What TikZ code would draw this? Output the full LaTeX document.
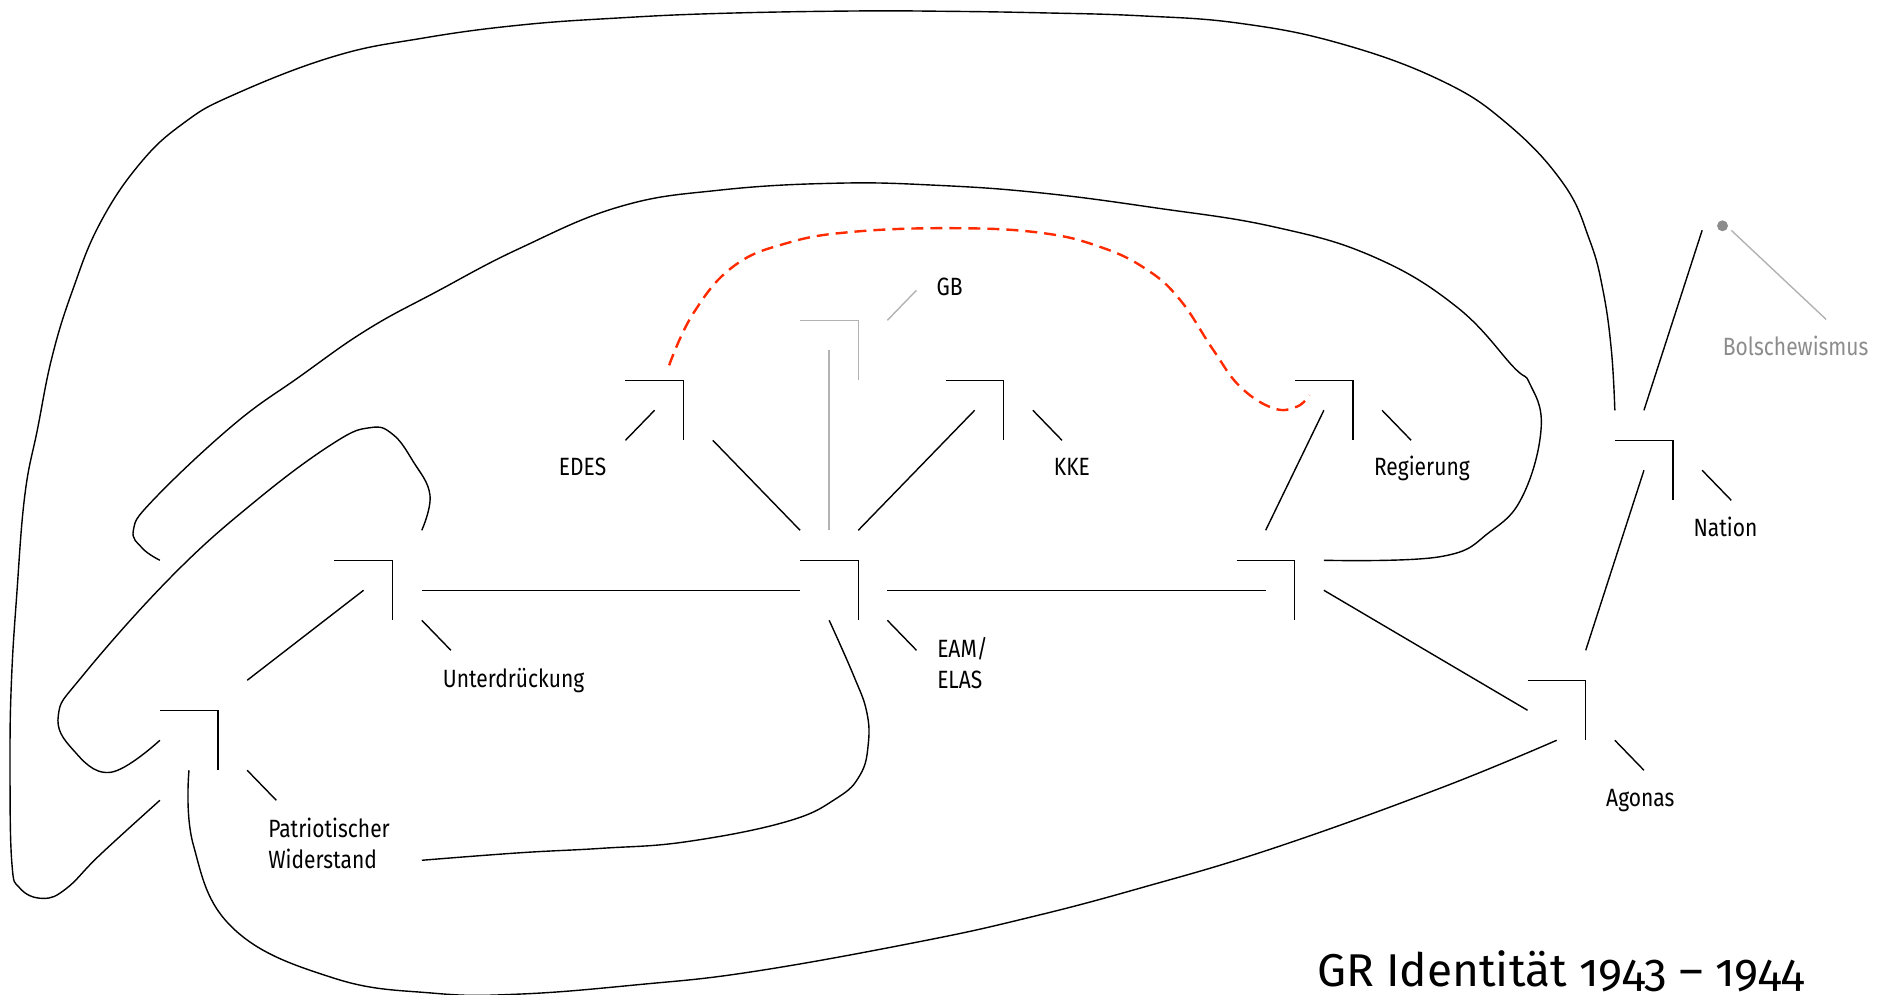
\documentclass[tikz,border=0pt]{standalone}
\usepackage{fontspec}
\setmainfont{Fira Sans}[FakeStretch=0.84,Numbers=OldStyle]
\newfontfamily\titlefont{Fira Sans}[Numbers=OldStyle]
\definecolor{dashred}{RGB}{255,42,0}
\definecolor{lightline}{RGB}{178,178,178}
\definecolor{dotgrey}{RGB}{140,140,140}
\begin{document}
\begin{tikzpicture}[x=29.1pt,y=-30pt,line width=1.4pt,
  lbl/.style={anchor=base west,inner sep=0pt,align=left,font=\fontsize{25}{31}\selectfont},
  faint/.style={draw=lightline},
  link/.style={draw=dashred,line width=2.4pt,dash pattern=on 12pt off 7pt},
  curvy/.style={smooth,tension=0.7}]
\useasboundingbox (-29.495,-18.677) rectangle (35.215,14.49);

\coordinate (pat) at (-22,5);
\coordinate (unt) at (-16,0);
\coordinate (edes) at (-6,-6);
\coordinate (gb) at (0,-8);
\coordinate (kke) at (5,-6);
\coordinate (eam) at (0,0);
\coordinate (reg) at (17,-6);
\coordinate (hub) at (15,0);
\coordinate (ago) at (25,4);
\coordinate (nat) at (28,-4);
\coordinate (bol) at (29.7,-11.15);
\coordinate (bend) at (-24,0);
\coordinate (wend) at (-15,10);

\draw (pat) +(-2,0) -- (pat) -- +(0,2);
\draw (unt) +(-2,0) -- (unt) -- +(0,2);
\draw (edes) +(-2,0) -- (edes) -- +(0,2);
\draw[faint] (gb) +(-2,0) -- (gb) -- +(0,2);
\draw (kke) +(-2,0) -- (kke) -- +(0,2);
\draw (eam) +(-2,0) -- (eam) -- +(0,2);
\draw (reg) +(-2,0) -- (reg) -- +(0,2);
\draw (hub) +(-2,0) -- (hub) -- +(0,2);
\draw (ago) +(-2,0) -- (ago) -- +(0,2);
\draw (nat) +(-2,0) -- (nat) -- +(0,2);
\filldraw[dotgrey] (bol) circle (4.7pt);

\draw (pat) +(1,2) -- +(2,3);
\draw (unt) +(1,2) -- +(2,3);
\draw (edes) +(-1,1) -- +(-2,2);
\draw[faint] (gb) +(1,0) -- +(2,-1);
\draw (kke) +(1,1) -- +(2,2);
\draw (eam) +(1,2) -- +(2,3);
\draw (reg) +(1,1) -- +(2,2);
\draw (ago) +(1,2) -- +(2,3);
\draw (nat) +(1,1) -- +(2,2);
\draw[faint] (bol) +(0.3,0.15) -- +(3.56,3.12);

\node[lbl] (patlabel) at (-20.3,10.27) {Patriotischer\\Widerstand};
\node[lbl] (untlabel) at (-14.3,4.23) {Unterdrückung};
\node[lbl] (edeslabel) at (-10.31,-2.81) {EDES};
\node[lbl] (gblabel) at (2.67,-8.82) {GB};
\node[lbl] (kkelabel) at (6.7,-2.84) {KKE};
\node[lbl] (eamlabel) at (2.69,4.27) {EAM/\\ELAS};
\node[lbl] (reglabel) at (17.7,-2.81) {Regierung};
\node[lbl] (agolabel) at (25.68,8.22) {Agonas};
\node[lbl] (natlabel) at (28.68,-0.79) {Nation};
\node[lbl,text=dotgrey] (bollabel) at (29.69,-6.81) {Bolschewismus};
\node[anchor=base west,inner sep=0pt,font=\titlefont\fontsize{46}{50}\selectfont] (title) at (15.75,14.2) {GR Identität 1943 – 1944};

\draw ([shift={(1,-1)}]pat) -- ([shift={(-1,1)}]unt);
\draw ([shift={(1,1)}]unt) -- ([shift={(-2,1)}]eam);
\draw ([shift={(1,1)}]eam) -- ([shift={(-1,1)}]hub);
\draw ([shift={(1,2)}]edes) -- ([shift={(-2,-1)}]eam);
\draw ([shift={(0,-1)}]eam) -- ([shift={(-1,1)}]kke);
\draw[faint] ([shift={(-1,-1)}]eam) -- ([shift={(-1,1)}]gb);
\draw ([shift={(-1,-1)}]hub) -- ([shift={(-1,1)}]reg);
\draw ([shift={(1,1)}]hub) -- ([shift={(-2,1)}]ago);
\draw ([shift={(0,-1)}]ago) -- ([shift={(-1,1)}]nat);
\draw ([shift={(-1,-1)}]nat) -- ([shift={(-0.7,0.15)}]bol);

\draw[link] plot[curvy] coordinates {([shift={(-0.5,-0.5)}]edes) (-5.67,-8.23) (-4.3,-9.79) (-2.46,-10.57) (-0.17,-10.95) (3.26,-11.07) (6.24,-10.92) (8.3,-10.45) (9.9,-9.7) (11.06,-8.68) (12.2,-7.01) (13.12,-5.79) (14.26,-5.07) (15.07,-5.12) ([shift={(-1.5,0.5)}]reg)};

\draw plot[curvy] coordinates {([shift={(1,-1)}]unt) (-14.72,-2.18) (-15.3,-3.3) (-16,-4.2) (-16.78,-4.42) (-18.04,-3.9) (-20.67,-2.01) (-23.55,0.49) (-26.63,3.82) (-27.49,5.16) (-27,6.3) (-25.71,7.07) ([shift={(-2,1)}]pat)};

\draw plot[curvy] coordinates {([shift={(1,0)}]hub) (20,-0.12) (21.71,-0.95) (22.85,-2.18) (23.47,-4.45) (23.07,-5.9) (22.51,-6.45) (20.56,-8.45) (17.7,-10.12) (14.26,-11.12) (10.2,-11.75) (6.24,-12.25) (2.7,-12.5) (-0.74,-12.57) (-4.75,-12.34) (-8.19,-11.79) (-11.63,-10.4) (-14.5,-8.95) (-16.89,-7.68) (-19.2,-6.12) (-21.48,-4.51) (-24.23,-2.01) (-24.91,-1.01) (-24.6,-0.4) (bend)};

\draw plot[curvy] coordinates {([shift={(-2,-1)}]nat) (25.88,-7.01) (25.59,-9.01) (25.13,-10.68) (24.22,-12.57) (22.28,-14.57) (19.99,-16.01) (16.55,-17.23) (13.11,-17.9) (9.7,-18.15) (6.24,-18.25) (3,-18.3) (-0.17,-18.31) (-4.75,-18.23) (-8.2,-18.08) (-11.63,-17.84) (-15,-17.4) (-18.04,-16.79) (-21.48,-15.51) (-23.19,-14.57) (-24.68,-13.23) (-26.06,-11.23) (-27,-9) (-27.7,-6.8) (-28.2,-4.4) (-28.64,-2.18) (-28.92,1.16) (-29.1,4) (-29.15,6.71) (-29.09,10.05) (-28.81,10.93) (-28.01,11.27) (-27.2,10.93) (-26.06,9.82) ([shift={(-2,3)}]pat)};

\draw plot[curvy] coordinates {([shift={(-1,2)}]pat) (-22.85,9.49) (-21.48,12.27) (-18.05,13.92) (-14.6,14.43) (-11.63,14.46) (-7.6,14.15) (-3.61,13.71) (2.12,12.71) (5.9,11.9) (9.68,10.93) (14.26,9.6) (19.99,7.6) ([shift={(-1,2)}]ago)};

\draw plot[curvy] coordinates {([shift={(-1,2)}]eam) (-0.17,3.82) (0.29,5.05) (0.34,6.16) (0.06,7.16) (-0.74,7.93) (-2.46,8.71) (-5.9,9.38) (-8.8,9.6) (-11.63,9.75) (wend)};
\end{tikzpicture}
\end{document}
